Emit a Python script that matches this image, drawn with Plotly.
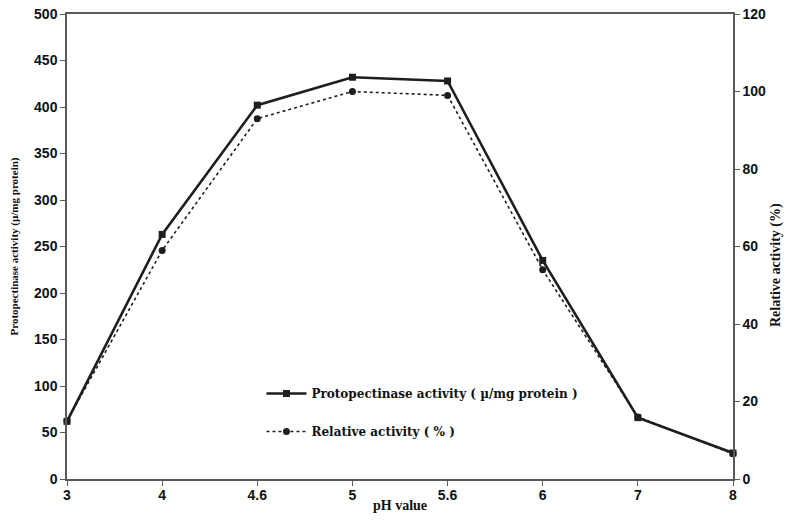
import plotly.graph_objects as go

# pH values tested (evenly spaced categories on the x axis)
ph_labels = ["3", "4", "4.6", "5", "5.6", "6", "7", "8"]

# Protopectinase activity (µ/mg protein) at each pH
ppase_activity = [62, 263, 402, 432, 428, 235, 66, 28]

# Relative activity (%) at each pH
relative_activity = [15, 59, 93, 100, 99, 54, 16, 6.5]

serif = "Liberation Serif"
wide_serif = "DejaVu Serif"
sans = "Liberation Sans"
axis_col = "#5a5a5a"
ink = "#1e1e1e"
tick_font = dict(family=sans, size=14, color="#111", weight="bold")

fig = go.Figure()

fig.add_trace(go.Scatter(
    x=ph_labels, y=ppase_activity,
    name="Protopectinase activity ( µ/mg protein )",
    mode="lines+markers",
    line=dict(color=ink, width=2.6),
    marker=dict(symbol="square", size=7, color=ink),
    cliponaxis=False, legendgroup="a",
))

fig.add_trace(go.Scatter(
    x=ph_labels, y=relative_activity,
    name="Relative activity ( % )",
    mode="lines+markers",
    line=dict(color=ink, width=1.6, dash="dot"),
    marker=dict(symbol="circle", size=7, color=ink),
    yaxis="y2",
    cliponaxis=False, legendgroup="b",
))

fig.update_layout(
    width=787, height=521,
    margin=dict(l=67, r=54, t=14, b=42),
    paper_bgcolor="white", plot_bgcolor="white",
    showlegend=True,
    legend=dict(
        x=0.292, y=0.215, xanchor="left", yanchor="top",
        bgcolor="rgba(0,0,0,0)",
        font=dict(family=wide_serif, size=12, color="#111", weight="bold"),
        tracegroupgap=19,
        itemwidth=40,
    ),
    xaxis=dict(
        type="category",
        range=[0, len(ph_labels) - 1],
        automargin=False,
        showgrid=False, zeroline=False,
        showline=True, linecolor=axis_col, linewidth=1.5, mirror=True,
        ticks="outside", ticklen=5, tickcolor=axis_col, tickwidth=1.2,
        ticklabelstandoff=-3,
        tickfont=tick_font,
    ),
    yaxis=dict(
        range=[0, 500], dtick=50,
        automargin=False,
        showgrid=False, zeroline=False,
        showline=True, linecolor=axis_col, linewidth=1.5,
        ticks="outside", ticklen=5, tickcolor=axis_col, tickwidth=1.2,
        tickfont=tick_font,
        title=dict(text="Protopectinase activity (µ/mg protein)", standoff=13,
                   font=dict(family=serif, size=11, color="#111", weight="bold")),
    ),
    yaxis2=dict(
        overlaying="y", side="right",
        range=[0, 120], dtick=20,
        automargin=False,
        showgrid=False, zeroline=False,
        showline=True, linecolor=axis_col, linewidth=1.5,
        ticks="outside", ticklen=5, tickcolor=axis_col, tickwidth=1.2,
        tickfont=tick_font,
    ),
    annotations=[
        dict(text="pH value", xref="paper", yref="paper",
             x=0.5, y=-0.056, xanchor="center", yanchor="middle",
             showarrow=False,
             font=dict(family=serif, size=14, color="#111", weight="bold")),
        dict(text="Relative activity (%)", xref="paper", yref="paper",
             x=1.0 + 43 / 666, y=(479 - 265) / 465, textangle=-90,
             xanchor="center", yanchor="middle", showarrow=False,
             font=dict(family=serif, size=14, color="#111", weight="bold")),
    ],
)

fig.write_html("out.html")
